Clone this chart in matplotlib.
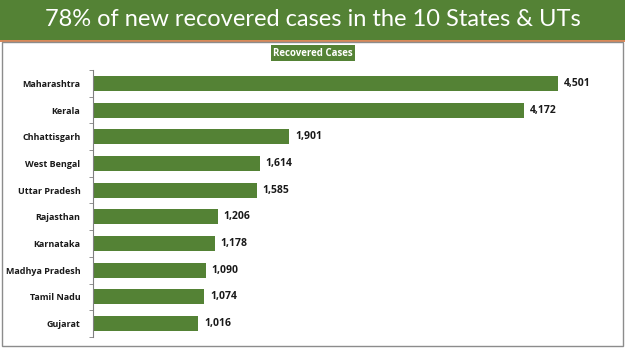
import matplotlib.pyplot as plt
import matplotlib.patches as patches

states = ['Maharashtra', 'Kerala', 'Chhattisgarh', 'West Bengal', 'Uttar Pradesh',
          'Rajasthan', 'Karnataka', 'Madhya Pradesh', 'Tamil Nadu', 'Gujarat']
recovered = [4501, 4172, 1901, 1614, 1585, 1206, 1178, 1090, 1074, 1016]

title = '78% of new recovered cases in the 10 States & UTs'
series_name = 'Recovered Cases'

green = '#548235'
W, H = 625, 351

fig = plt.figure(figsize=(W / 100, H / 100), dpi=100)
fig.patch.set_facecolor('white')

# header band
fig.patches.append(patches.Rectangle((0, 1 - 40 / H), 1, 40 / H, transform=fig.transFigure,
                                     facecolor=green, edgecolor='none', zorder=0))
fig.patches.append(patches.Rectangle((0, 1 - 42 / H), 1, 2 / H, transform=fig.transFigure,
                                     facecolor='#D9895A', edgecolor='none', zorder=0))
# chart panel border
fig.patches.append(patches.Rectangle((2 / W, 1 - 346 / H), 621 / W, 304 / H, transform=fig.transFigure,
                                     facecolor='none', edgecolor='#8c8c8c', lw=1.0, zorder=1))

fig.text(0.5, 1 - 20 / H, title, ha='center', va='center', color='white',
         fontsize=17, family='Lato')
fig.text(313 / W, 1 - 53 / H, series_name, ha='center', va='center', color='white',
         fontsize=7, fontweight='bold', family='Open Sans',
         bbox=dict(boxstyle='square,pad=0.25', facecolor=green, edgecolor='none'))

ax = fig.add_axes([93 / W, 1 - 337 / H, 510 / W, 267 / H])
y = list(range(len(states)))
ax.barh(y, recovered, height=0.56, color=green)
ax.set_ylim(len(states) - 0.5, -0.5)
ax.set_xlim(0, 4940)

for yi, v in zip(y, recovered):
    ax.text(v + 60, yi, f'{v:,}', va='center', ha='left', fontsize=7.5,
            fontweight='bold', family='Open Sans', color='#1a1a1a')

ax.set_yticks(y)
ax.set_yticklabels(states, fontsize=6.5, fontweight='bold', family='Open Sans', color='#1a1a1a')
ax.set_yticks([i - 0.5 for i in range(len(states) + 1)], minor=True)
ax.tick_params(axis='y', which='major', length=0, pad=9)
ax.tick_params(axis='y', which='minor', length=3, color='#808080')
ax.set_xticks([])
for s in ['top', 'right', 'bottom']:
    ax.spines[s].set_visible(False)
ax.spines['left'].set_color('#808080')
ax.patch.set_alpha(0)

fig.savefig('out.png', dpi=100)
